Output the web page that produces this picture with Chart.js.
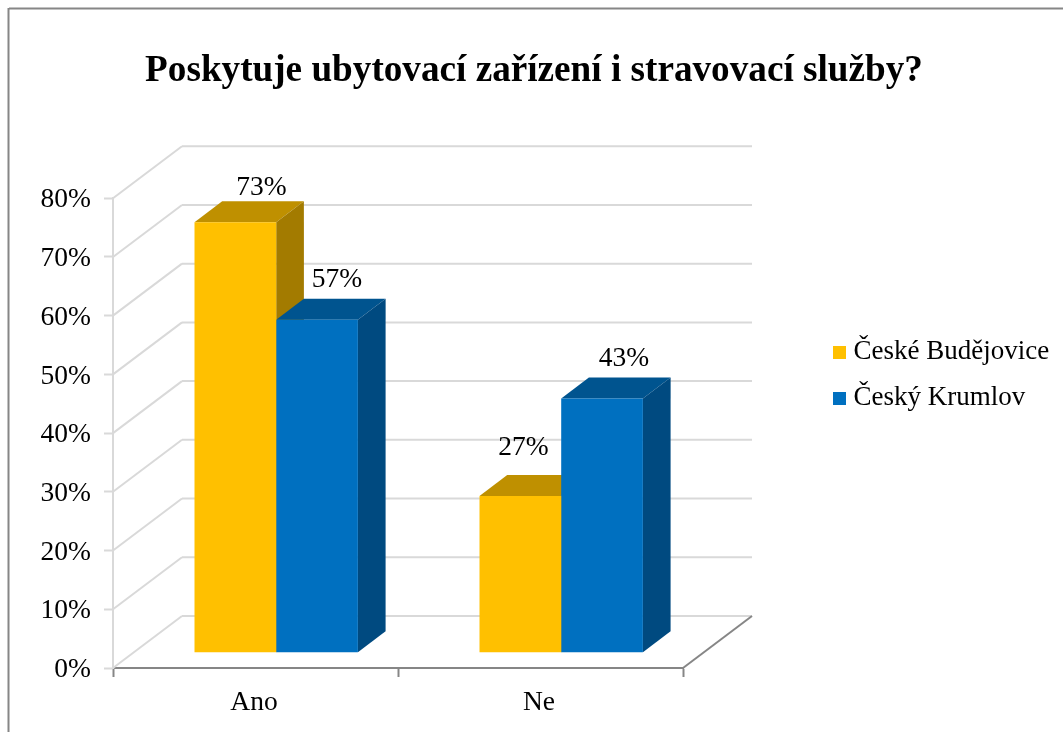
<!DOCTYPE html>
<html lang="cs">
<head>
<meta charset="utf-8">
<title>Poskytuje ubytovací zařízení i stravovací služby?</title>
<script src="https://cdn.jsdelivr.net/npm/chart.js@4/dist/chart.umd.min.js"></script>
<style>html,body{margin:0;padding:0;background:#fff}canvas{display:block}</style>
</head>
<body>
<canvas id="c" width="1063" height="732"></canvas>
<script>
const titleText = 'Poskytuje ubytovací zařízení i stravovací služby?';
const categories = ['Ano', 'Ne'];
const seriesNames = ['České Budějovice', 'Český Krumlov'];
const budejoviceValues = [73.3, 26.7];
const krumlovValues = [56.7, 43.3];
const yTicksMax = 80;
const yTickStep = 10;

const SERIF = '"Liberation Serif", "Times New Roman", serif';
const colors = [
  {front: '#FFC000', top: '#BF9000', side: '#A37B00'},
  {front: '#0070C0', top: '#00548F', side: '#004A80'}
];
const GRID = '#D9D9D9', AXIS = '#868686';
const WALL = {dx: 69, dy: -52};          // depth of the floor/walls
const BAR = {dx: 27.7, dy: -21};         // depth of each bar
const SHIFT = {x: 20.7, y: -15.2};       // bars stand inside the floor
// label offset from the front-top centre of each bar [series][category]
const labelOffset = [[{x: 26, y: -35}, {x: 3, y: -48}], [{x: 20, y: -40}, {x: 22, y: -40}]];

function swatch(color) {
  const c = document.createElement('canvas');
  c.width = 13; c.height = 13;
  const g = c.getContext('2d');
  g.fillStyle = color; g.fillRect(0, 0, 13, 13);
  return c;
}
function poly(ctx, pts, fill) {
  ctx.beginPath();
  pts.forEach((p, i) => i ? ctx.lineTo(p[0], p[1]) : ctx.moveTo(p[0], p[1]));
  ctx.closePath();
  ctx.fillStyle = fill; ctx.fill();
}
function line(ctx, x1, y1, x2, y2, color, w) {
  ctx.beginPath(); ctx.moveTo(x1, y1); ctx.lineTo(x2, y2);
  ctx.strokeStyle = color; ctx.lineWidth = w; ctx.stroke();
}

const depthPlugin = {
  id: 'depth',
  afterLayout(chart) {
    const t = chart.titleBlock, l = chart.legend;
    if (t) { t.left = 0; t.right = 1068; t.top = 53; t.bottom = t.top + t.height; }
    if (l) { l.left = 820; l.right = l.left + l.width; l.top = 319.5; l.bottom = l.top + l.height; }
  },
  beforeDraw(chart) {
    const ctx = chart.ctx;
    ctx.save();
    line(ctx, 9, 8.5, 1063, 8.5, AXIS, 2);
    line(ctx, 8.5, 8, 8.5, 732, AXIS, 2);
    ctx.restore();
  },
  beforeDatasetsDraw(chart) {
    const ctx = chart.ctx, y = chart.scales.y, a = chart.chartArea;
    ctx.save();
    y.ticks.forEach(tk => {
      const py = y.getPixelForValue(tk.value);
      line(ctx, a.left, py, a.left + WALL.dx, py + WALL.dy, GRID, 2);
      line(ctx, a.left + WALL.dx, py + WALL.dy, a.right + WALL.dx, py + WALL.dy, GRID, 2);
    });
    line(ctx, a.right, a.bottom, a.right + WALL.dx, a.bottom + WALL.dy, AXIS, 2);
    colors.forEach((col, di) => {
      chart.getDatasetMeta(di).data.forEach(b => {
        const L = b.x - b.width / 2 + SHIFT.x, R = b.x + b.width / 2 + SHIFT.x;
        const T = b.y + SHIFT.y, B = b.base + SHIFT.y;
        poly(ctx, [[L, T], [L + BAR.dx, T + BAR.dy], [R + BAR.dx, T + BAR.dy], [R, T]], col.top);
        poly(ctx, [[R, T], [R + BAR.dx, T + BAR.dy], [R + BAR.dx, B + BAR.dy], [R, B]], col.side);
      });
    });
    ctx.restore();
    ctx.save();
    ctx.translate(SHIFT.x, SHIFT.y);
  },
  afterDatasetsDraw(chart) {
    const ctx = chart.ctx;
    ctx.restore();
    ctx.save();
    ctx.font = '27.5px ' + SERIF;
    ctx.fillStyle = '#000';
    ctx.textAlign = 'center';
    ctx.textBaseline = 'middle';
    chart.data.datasets.forEach((ds, di) => {
      chart.getDatasetMeta(di).data.forEach((b, i) => {
        const o = labelOffset[di][i];
        ctx.fillText(Math.round(ds.data[i]) + '%', b.x + SHIFT.x + o.x, b.y + SHIFT.y + o.y);
      });
    });
    ctx.restore();
  }
};

new Chart(document.getElementById('c'), {
  type: 'bar',
  data: {
    labels: categories,
    datasets: [
      {label: seriesNames[0], data: budejoviceValues, backgroundColor: colors[0].front, clip: false},
      {label: seriesNames[1], data: krumlovValues, backgroundColor: colors[1].front, clip: false}
    ]
  },
  plugins: [depthPlugin],
  options: {
    responsive: false,
    animation: false,
    datasets: {bar: {categoryPercentage: 0.5733, barPercentage: 1}},
    layout: {autoPadding: false, padding: {left: 23, right: 380, top: 161, bottom: 14}},
    plugins: {
      tooltip: {enabled: false},
      title: {
        display: true, text: titleText, color: '#000',
        padding: 0, font: {family: SERIF, size: 37.2, weight: 'bold', lineHeight: 1}
      },
      legend: {
        position: 'chartArea',
        align: 'start',
        labels: {
          color: '#000',
          font: {family: SERIF, size: 27},
          usePointStyle: true,
          pointStyleWidth: 1,
          boxHeight: 13,
          padding: 19,
          generateLabels(chart) {
            return Chart.defaults.plugins.legend.labels.generateLabels(chart).map((it, i) => {
              it.pointStyle = swatch(colors[i].front);
              return it;
            });
          }
        }
      }
    },
    scales: {
      x: {
        afterFit(s) { s.height = 50; },
        grid: {drawOnChartArea: false, tickLength: 9, tickColor: AXIS, tickWidth: 2, offset: true},
        border: {color: AXIS, width: 2},
        ticks: {color: '#000', padding: 9, labelOffset: -1.5, font: {family: SERIF, size: 27.5}}
      },
      y: {
        min: 0, max: yTicksMax,
        afterFit(s) { s.width = 90; },
        grid: {drawOnChartArea: false, tickLength: 9, tickColor: GRID, tickWidth: 2},
        border: {color: GRID, width: 2},
        ticks: {
          stepSize: yTickStep, color: '#000', padding: 13, labelOffset: 2,
          font: {family: SERIF, size: 27.5},
          callback: v => v + '%'
        }
      }
    }
  }
});
</script>
</body>
</html>
